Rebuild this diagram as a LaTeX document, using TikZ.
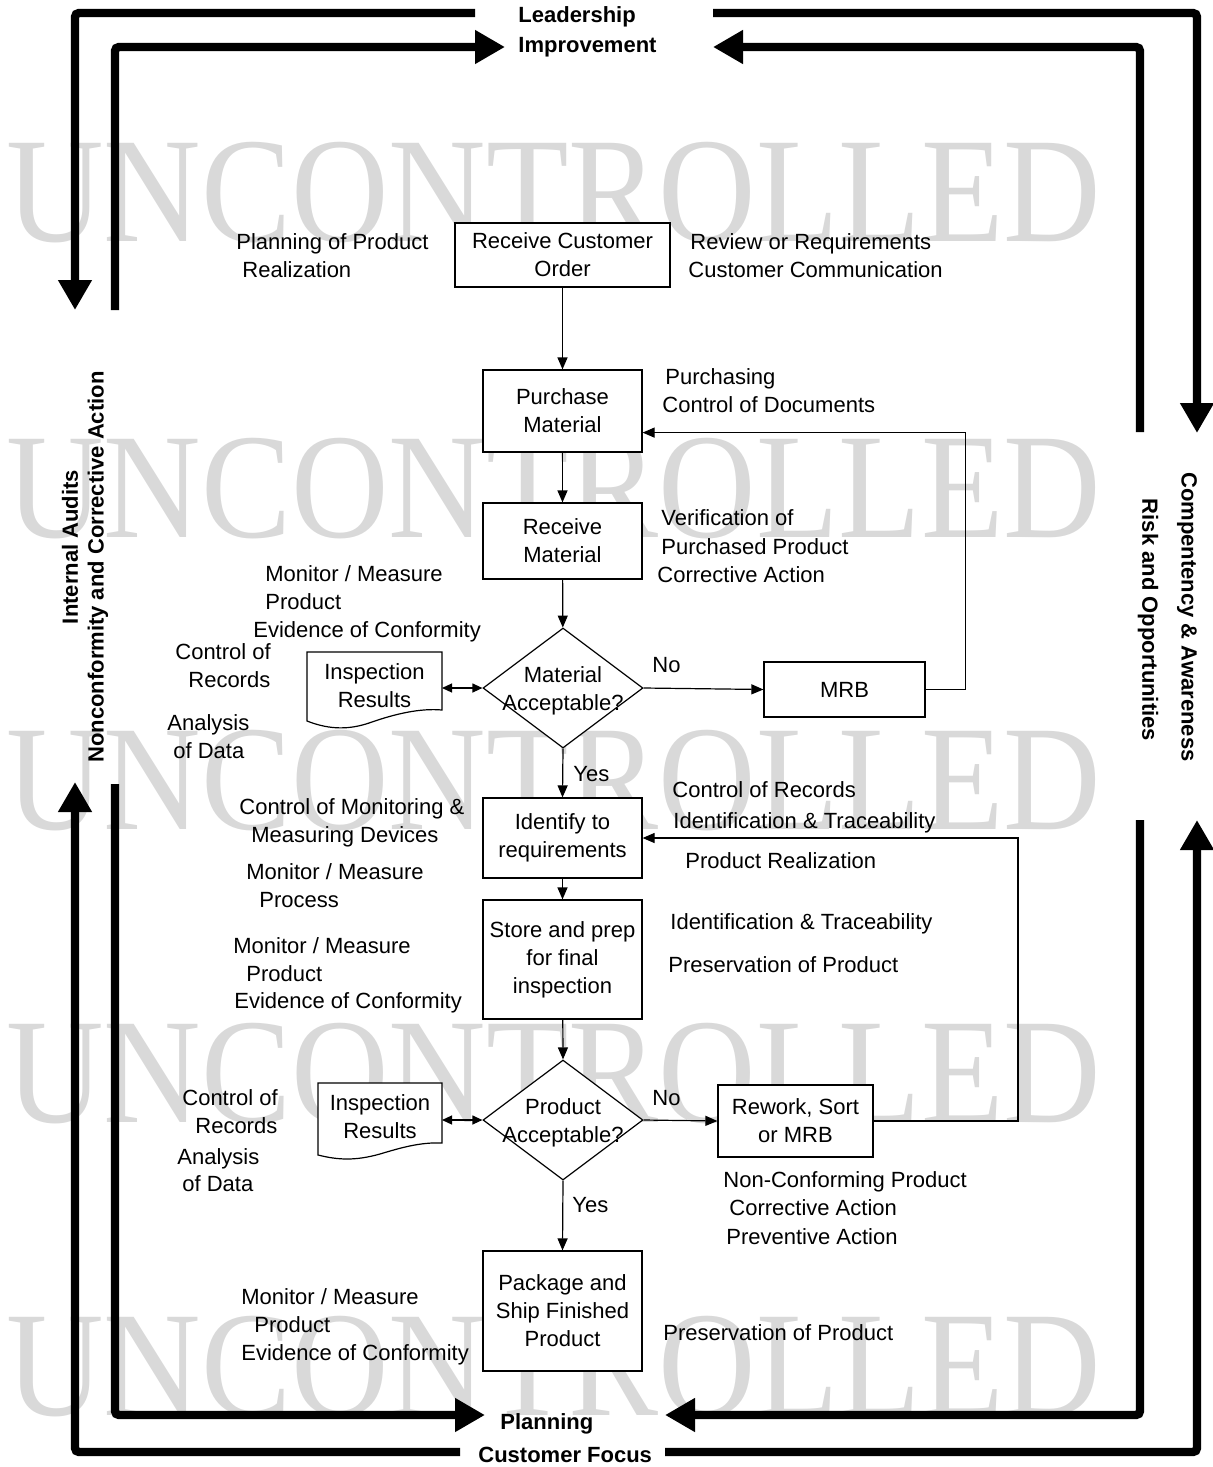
\documentclass[tikz,border=0pt]{standalone}
\usepackage{fontspec}
\setmainfont{Liberation Sans}
\newfontfamily\wmfont{Liberation Serif}
\usetikzlibrary{arrows.meta,shapes.geometric}
\tikzset{
  box/.style={draw, fill=white, line width=0.6pt, align=center, inner sep=0pt, font=\fontsize{11}{14}\selectfont},
  dia/.style={draw, fill=white, line width=0.6pt, diamond, inner sep=0pt, minimum width=80pt, minimum height=60pt},
  diatext/.style={align=center, inner sep=0pt, font=\fontsize{11}{14}\selectfont},
  doctext/.style={align=center, inner sep=0pt, font=\fontsize{11}{14}\selectfont},
  docshape/.style={draw, fill=white, line width=0.6pt},
  lbl/.style={anchor=base west, inner sep=0pt, font=\fontsize{11}{14}\selectfont},
  blbl/.style={anchor=base west, inner sep=0pt, font=\bfseries\fontsize{11}{14}\selectfont},
  vlbl/.style={inner sep=0pt, font=\bfseries\fontsize{11}{14}\selectfont},
  conn/.style={line width=0.6pt, -{Triangle[length=6pt,width=5pt]}},
  dconn/.style={line width=0.6pt, {Triangle[length=5pt,width=4.5pt]}-{Triangle[length=5pt,width=4.5pt]}},
  loopline/.style={line width=4.2pt, rounded corners=2pt},
  bigarrow/.style={loopline, -{Triangle[length=15pt,width=16pt]}},
  wm/.style={anchor=base west, inner sep=0pt, text=black!15, font=\wmfont\fontsize{75}{75}\selectfont},
}
\newcommand\lab[4]{\node[lbl] (#1) at (#2,#3+8) {#4};}
\begin{document}
\begin{tikzpicture}[x=0.5pt,y=-0.5pt]
\useasboundingbox (0,0) rectangle (1212,1467);
% watermark
\node[wm] (w1) at (6,241) {\scalebox{0.9}[1]{UNCONTROLLED}};
\node[wm] (w2) at (6,537) {\scalebox{0.9}[1]{UNCONTROLLED}};
\node[wm] (w3) at (6,829) {\scalebox{0.9}[1]{UNCONTROLLED}};
\node[wm] (w4) at (6,1122) {\scalebox{0.9}[1]{UNCONTROLLED}};
\node[wm] (w5) at (6,1415) {\scalebox{0.9}[1]{UNCONTROLLED}};

% boxes
\node[box, minimum width=107.5pt, minimum height=32pt] (order) at (562.5,255) {Receive Customer\\Order};
\node[box, minimum width=79.5pt, minimum height=41pt] (purchase) at (562.5,411) {Purchase\\Material};
\node[box, minimum width=79.5pt, minimum height=38pt] (receive) at (562.5,541) {Receive\\Material};
\node[dia] (d1) at (563,688) {};
\node[diatext] (d1t) at (563,691) {Material\\Acceptable?};
\node[box, minimum width=80.5pt, minimum height=27.5pt] (mrb) at (844.5,689.5) {MRB};
\node[box, minimum width=79.5pt, minimum height=40pt] (ident) at (562.5,838) {Identify to\\requirements};
\node[box, minimum width=79.5pt, minimum height=59.5pt] (store) at (562.5,959.5) {Store and prep\\for final\\inspection};
\node[dia] (d2) at (563,1120) {};
\node[diatext] (d2t) at (563,1123) {Product\\Acceptable?};
\node[box, minimum width=77.5pt, minimum height=36pt] (rework) at (795.5,1121) {Rework, Sort\\or MRB};
\node[box, minimum width=79.5pt, minimum height=60pt] (pack) at (562.5,1311) {Package and\\Ship Finished\\Product};

% documents
\draw[docshape] (307,652) -- (442,652) -- (442,710) .. controls (420,708) and (395,714) .. (372,722) .. controls (350,730) and (330,730) .. (307,721) -- cycle;
\node[doctext] (ins1) at (374.5,686) {Inspection\\Results};
\draw[docshape] (318,1083) -- (442,1083) -- (442,1143) .. controls (420,1142) and (400,1148) .. (380,1154) .. controls (355,1161) and (338,1160) .. (318,1155) -- cycle;
\node[doctext] (ins2) at (380,1117) {Inspection\\Results};

% connectors
\draw[conn] (order) -- (purchase);
\draw[conn] (purchase) -- (receive);
\draw[conn] (receive) -- (d1);
\draw[conn] (d1.east) -- (mrb.west);
\draw[conn] (mrb.east) -- ++(40,0) |- ([yshift=10pt]purchase.south east);
\draw[dconn] (442,688) -- (d1.west);
\draw[conn] (d1.south) -- (ident.north);
\draw[conn] (ident) -- (store);
\draw[conn] (store) -- (d2.north);
\draw[conn] (d2.east) -- (rework.west);
\draw[conn] (rework.east) -- (1018,1121) |- (ident.east);
\draw[dconn] (442,1120) -- (d2.west);
\draw[conn] (d2.south) -- (pack.north);

% outer loops
\draw[bigarrow] (475,13) -- (75,13) -- (75,310);
\draw[bigarrow] (115,310) -- (115,47) -- (505,47);
\draw[bigarrow] (713,13) -- (1197,13) -- (1197,433);
\draw[bigarrow] (1140,432) -- (1140,47) -- (713,47);
\draw[bigarrow] (460,1452) -- (75,1452) -- (75,782);
\draw[bigarrow] (115,784) -- (115,1415) -- (485,1415);
\draw[bigarrow] (665,1452) -- (1197,1452) -- (1197,820);
\draw[bigarrow] (1140,820) -- (1140,1415) -- (665,1415);

% bold loop labels
\node[blbl] (lead) at (518,22) {Leadership};
\node[blbl] (impr) at (518,52) {Improvement};
\node[blbl] (plan) at (500,1429) {Planning};
\node[blbl] (cfoc) at (478,1462) {Customer Focus};
\node[vlbl, rotate=90] (ia) at (70,547) {Internal Audits};
\node[vlbl, rotate=90] (nc) at (98,567) {Nonconformity and Corrective Action};
\node[vlbl, rotate=-90] (ca) at (1187,617) {Compentency \& Awareness};
\node[vlbl, rotate=-90] (ro) at (1148,620) {Risk and Opportunities};

% labels
\lab{no1}{652}{664}{No}
\lab{yes1}{573}{773}{Yes}
\lab{no2}{652}{1097}{No}
\lab{yes2}{572}{1204}{Yes}
\lab{a1}{236}{241}{Planning of Product}
\lab{a2}{242}{269}{Realization}
\lab{b1}{690}{241}{Review or Requirements}
\lab{b2}{688}{269}{Customer Communication}
\lab{c1}{665}{376}{Purchasing}
\lab{c2}{662}{404}{Control of Documents}
\lab{e1}{661}{517}{Verification of}
\lab{e2}{661}{546}{Purchased Product}
\lab{e3}{657}{574}{Corrective Action}
\lab{f1}{265}{573}{Monitor / Measure}
\lab{f2}{265}{601}{Product}
\lab{f3}{253}{629}{Evidence of Conformity}
\lab{g1}{175}{651}{Control of}
\lab{g2}{188}{679}{Records}
\lab{h1}{167}{722}{Analysis}
\lab{h2}{173}{750}{of Data}
\lab{i1}{672}{789}{Control of Records}
\lab{i2}{673}{820}{Identification \& Traceability}
\lab{i3}{685}{860}{Product Realization}
\lab{j1}{239}{806}{Control of Monitoring \&}
\lab{j2}{251}{834}{Measuring Devices}
\lab{k1}{246}{871}{Monitor / Measure}
\lab{k2}{259}{899}{Process}
\lab{m1}{670}{921}{Identification \& Traceability}
\lab{m2}{668}{964}{Preservation of Product}
\lab{n1}{233}{945}{Monitor / Measure}
\lab{n2}{246}{973}{Product}
\lab{n3}{234}{1000}{Evidence of Conformity}
\lab{o1}{182}{1097}{Control of}
\lab{o2}{195}{1125}{Records}
\lab{p1}{177}{1156}{Analysis}
\lab{p2}{182}{1183}{of Data}
\lab{q1}{723}{1179}{Non-Conforming Product}
\lab{q2}{729}{1207}{Corrective Action}
\lab{q3}{726}{1236}{Preventive Action}
\lab{r1}{241}{1296}{Monitor / Measure}
\lab{r2}{254}{1324}{Product}
\lab{r3}{241}{1352}{Evidence of Conformity}
\lab{s1}{663}{1332}{Preservation of Product}
\end{tikzpicture}
\end{document}
